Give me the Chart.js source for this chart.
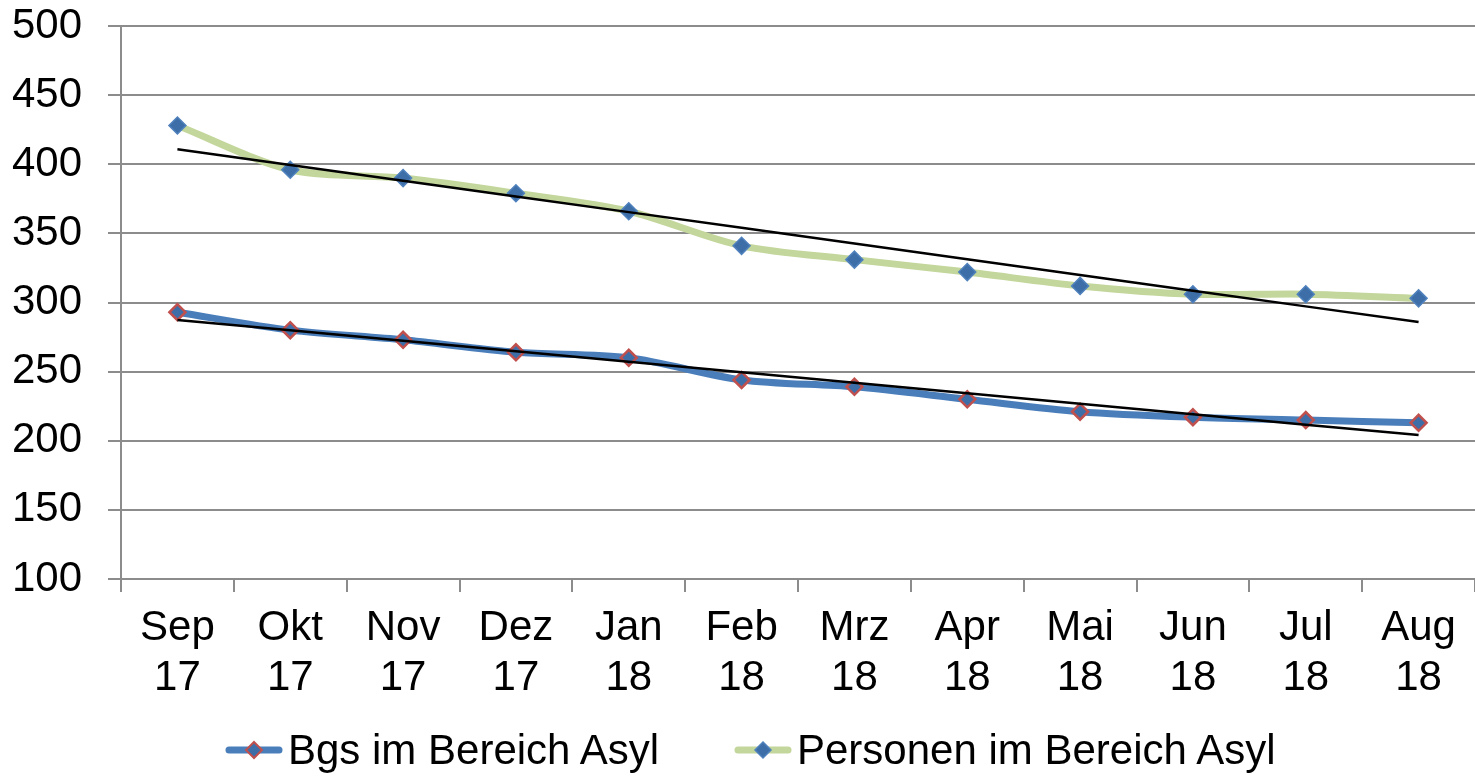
<!DOCTYPE html>
<html lang="de">
<head>
<meta charset="utf-8">
<title>Bgs und Personen im Bereich Asyl</title>
<script src="https://cdn.jsdelivr.net/npm/chart.js"></script>
<style>
  html, body { margin: 0; padding: 0; background: #fff; overflow: hidden; }
  .wrap { position: relative; width: 1475px; height: 776px; }
  .legend {
    position: absolute; left: 0; top: 724px; width: 1475px; height: 52px;
    font-family: 'Liberation Sans', Arial, sans-serif; font-size: 42px; color: #000;
  }
  .legend .item { position: absolute; top: 0; height: 52px; display: flex; align-items: center; white-space: nowrap; }
  .legend svg { margin-right: 5px; }
</style>
</head>
<body>
<div class="wrap">
  <canvas id="asylChart"></canvas>
  <div class="legend">
    <div class="item" style="left: 225px;">
      <svg width="58" height="22"><line x1="4" y1="11" x2="54" y2="11" stroke="#4a7ebb" stroke-width="7" stroke-linecap="round"/>
        <polygon points="29,3 37,11 29,19 21,11" fill="#3d6ea8" stroke="#c0504d" stroke-width="2"/></svg>
      <span>Bgs im Bereich Asyl</span>
    </div>
    <div class="item" style="left: 734px;">
      <svg width="58" height="22"><line x1="4" y1="11" x2="54" y2="11" stroke="#c3d69b" stroke-width="7" stroke-linecap="round"/>
        <polygon points="29,3 37,11 29,19 21,11" fill="#3d6ea8" stroke="#4f81bd" stroke-width="1.5"/></svg>
      <span>Personen im Bereich Asyl</span>
    </div>
  </div>
</div>

<script>
// ── DATA ─────────────────────────────────────────────
const months   = ['Sep', 'Okt', 'Nov', 'Dez', 'Jan', 'Feb', 'Mrz', 'Apr', 'Mai', 'Jun', 'Jul', 'Aug'];
const years    = ['17', '17', '17', '17', '18', '18', '18', '18', '18', '18', '18', '18'];
const bgs      = [293, 280, 273, 264, 260, 244, 239, 230, 221, 217, 215, 213];
const personen = [428, 396, 390, 379, 366, 341, 331, 322, 312, 306, 306, 303];
const yTicks   = [100, 150, 200, 250, 300, 350, 400, 450, 500];

// linear trend (least squares), like the Excel trendline
function trend(values) {
  const n = values.length;
  let sx = 0, sy = 0, sxy = 0, sxx = 0;
  values.forEach((y, x) => { sx += x; sy += y; sxy += x * y; sxx += x * x; });
  const slope = (n * sxy - sx * sy) / (n * sxx - sx * sx);
  const icpt  = (sy - slope * sx) / n;
  return values.map((_, x) => icpt + slope * x);
}

const labels = months.map((m, i) => [m, years[i]]);
const FONT = "'Liberation Sans', Arial, sans-serif";
const GRID = '#8c8c8c';

new Chart(document.getElementById('asylChart'), {
  type: 'line',
  data: {
    labels: labels,
    datasets: [
      {
        label: 'Bgs im Bereich Asyl',
        data: bgs,
        order: 1,
        borderColor: '#4a7ebb',
        borderWidth: 7,
        tension: 0.3,
        pointStyle: 'rectRot',
        pointRadius: 8,
        pointBackgroundColor: '#3d6ea8',
        pointBorderColor: '#c0504d',
        pointBorderWidth: 2.5
      },
      {
        label: 'Personen im Bereich Asyl',
        data: personen,
        order: 1,
        borderColor: '#c3d69b',
        borderWidth: 7,
        tension: 0.3,
        pointStyle: 'rectRot',
        pointRadius: 8.5,
        pointBackgroundColor: '#3d6ea8',
        pointBorderColor: '#4f81bd',
        pointBorderWidth: 1.5
      },
      {
        label: 'Trend Bgs',
        data: trend(bgs),
        order: 0,
        borderColor: '#000',
        borderWidth: 2.5,
        pointRadius: 0,
        tension: 0
      },
      {
        label: 'Trend Personen',
        data: trend(personen),
        order: 0,
        borderColor: '#000',
        borderWidth: 2.5,
        pointRadius: 0,
        tension: 0
      }
    ]
  },
  options: {
    responsive: true,
    maintainAspectRatio: false,
    animation: false,
    layout: { autoPadding: false, padding: { top: 26, left: 0, right: 0, bottom: 0 } },
    plugins: {
      legend: { display: false },
      tooltip: { enabled: false }
    },
    scales: {
      x: {
        offset: true,
        afterFit: (axis) => { axis.height = 197; axis.paddingLeft = 0; axis.paddingRight = 0; },
        grid: { display: true, drawOnChartArea: false, drawTicks: true, offset: true,
                tickLength: 13, color: GRID, lineWidth: 2 },
        border: { color: GRID, width: 2 },
        ticks: { color: '#000', font: { family: FONT, size: 42, lineHeight: 1.18 },
                 padding: 12, maxRotation: 0, autoSkip: false }
      },
      y: {
        min: yTicks[0],
        max: yTicks[yTicks.length - 1],
        afterBuildTicks: (axis) => { axis.ticks = yTicks.map(v => ({ value: v })); },
        afterFit: (axis) => { axis.width = 121; axis.paddingTop = 0; axis.paddingBottom = 0; },
        grid: { color: GRID, lineWidth: 2, tickLength: 13 },
        border: { color: GRID, width: 2 },
        ticks: { color: '#000', font: { family: FONT, size: 42 }, padding: 26 }
      }
    }
  }
});
</script>
</body>
</html>
